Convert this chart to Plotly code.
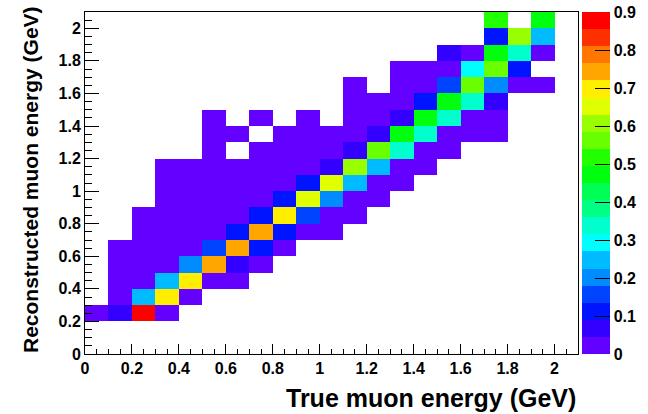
import plotly.graph_objects as go

# Bin centres (GeV) of the 2D histogram, 0.1 GeV bins from 0 to 2.1
true_energy = [0.05, 0.15, 0.25, 0.35, 0.45, 0.55, 0.65, 0.75, 0.85, 0.95, 1.05,
               1.15, 1.25, 1.35, 1.45, 1.55, 1.65, 1.75, 1.85, 1.95, 2.05]
reco_energy = [0.05, 0.15, 0.25, 0.35, 0.45, 0.55, 0.65, 0.75, 0.85, 0.95, 1.05,
               1.15, 1.25, 1.35, 1.45, 1.55, 1.65, 1.75, 1.85, 1.95, 2.05]

N = None
# One list per reconstructed-energy row (bottom to top), values per true-energy column
row_00 = [N, N, N, N, N, N, N, N, N, N, N, N, N, N, N, N, N, N, N, N, N]
row_01 = [N, N, N, N, N, N, N, N, N, N, N, N, N, N, N, N, N, N, N, N, N]
row_02 = [.02, .07, .88, .02, N, N, N, N, N, N, N, N, N, N, N, N, N, N, N, N, N]
row_03 = [N, .02, .25, .70, .02, N, N, N, N, N, N, N, N, N, N, N, N, N, N, N, N]
row_04 = [N, .02, .02, .25, .70, .02, .02, N, N, N, N, N, N, N, N, N, N, N, N, N, N]
row_05 = [N, .02, .02, .02, .20, .74, .07, .02, N, N, N, N, N, N, N, N, N, N, N, N, N]
row_06 = [N, .02, .02, .02, .02, .16, .74, .11, .02, N, N, N, N, N, N, N, N, N, N, N, N]
row_07 = [N, N, .02, .02, .02, .02, .11, .74, .11, .02, .02, N, N, N, N, N, N, N, N, N, N]
row_08 = [N, N, .02, .02, .02, .02, .02, .11, .70, .16, .02, .02, N, N, N, N, N, N, N, N, N]
row_09 = [N, N, N, .02, .02, .02, .02, .02, .11, .65, .20, .02, .02, N, N, N, N, N, N, N, N]
row_10 = [N, N, N, .02, .02, .02, .02, .02, .02, .11, .65, .25, .02, .02, N, N, N, N, N, N, N]
row_11 = [N, N, N, .02, .02, .02, .02, .02, .02, .02, .07, .61, .25, .02, .02, N, N, N, N, N, N]
row_12 = [N, N, N, N, N, .02, N, .02, .02, .02, .02, .07, .56, .34, .02, .02, N, N, N, N, N]
row_13 = [N, N, N, N, N, .02, .02, N, .02, .02, .02, .02, .07, .47, .34, .02, .02, .02, N, N, N]
row_14 = [N, N, N, N, N, .02, N, .02, N, .02, N, .02, .02, .07, .47, .34, .02, .02, N, N, N]
row_15 = [N, N, N, N, N, N, N, N, N, N, N, .02, .02, .02, .11, .47, .34, .07, N, N, N]
row_16 = [N, N, N, N, N, N, N, N, N, N, N, .02, N, .02, .02, .16, .56, .20, .02, .02, N]
row_17 = [N, N, N, N, N, N, N, N, N, N, N, N, N, .02, .02, .02, .29, .56, .11, N, N]
row_18 = [N, N, N, N, N, N, N, N, N, N, N, N, N, N, N, .07, .02, .47, .34, .02, N]
row_19 = [N, N, N, N, N, N, N, N, N, N, N, N, N, N, N, N, N, .11, .61, .25, N]
row_20 = [N, N, N, N, N, N, N, N, N, N, N, N, N, N, N, N, N, .52, N, .47, N]

z_rows = [row_00, row_01, row_02, row_03, row_04, row_05, row_06, row_07, row_08, row_09,
          row_10, row_11, row_12, row_13, row_14, row_15, row_16, row_17, row_18, row_19, row_20]

colorbar_ticks = [0, 0.1, 0.2, 0.3, 0.4, 0.5, 0.6, 0.7, 0.8, 0.9]
colorbar_labels = ["0", "0.1", "0.2", "0.3", "0.4", "0.5", "0.6", "0.7", "0.8", "0.9"]

# ROOT "pretty" palette, 20 contour levels
band_colors = [
    "rgb(99,0,255)", "rgb(51,0,255)", "rgb(0,20,255)", "rgb(0,68,255)", "rgb(0,139,255)",
    "rgb(0,187,255)", "rgb(0,255,252)", "rgb(0,255,204)", "rgb(0,255,133)", "rgb(0,255,85)",
    "rgb(0,255,14)", "rgb(34,255,0)", "rgb(105,255,0)", "rgb(153,255,0)", "rgb(224,255,0)",
    "rgb(255,238,0)", "rgb(255,167,0)", "rgb(255,119,0)", "rgb(255,48,0)", "rgb(255,0,0)",
]
nb = len(band_colors)
colorscale = []
for k, c in enumerate(band_colors):
    colorscale.append([k / nb, c])
    colorscale.append([(k + 1) / nb, c])

FONT = "Liberation Sans, Arial, Helvetica, sans-serif"

fig = go.Figure(go.Heatmap(
    x=true_energy, y=reco_energy, z=z_rows,
    zmin=0, zmax=0.9, colorscale=colorscale, hoverongaps=False,
    colorbar=dict(
        x=1.0075, xanchor="left", xpad=0, ypad=0, y=0.5, yanchor="middle",
        len=1, lenmode="fraction", thickness=28, thicknessmode="pixels",
        outlinewidth=0, tickmode="array", tickvals=colorbar_ticks, ticktext=colorbar_labels,
        ticks="inside", ticklen=15, tickcolor="black", tickwidth=1,
        tickfont=dict(family=FONT, size=16, color="black", weight="bold"),
    ),
))

axis_common = dict(
    showline=True, linecolor="black", linewidth=1, mirror=True,
    showgrid=False, zeroline=False, ticks="inside", tickcolor="black", tickwidth=1,
    tick0=0, dtick=0.2, tickfont=dict(family=FONT, size=16, color="black", weight="bold"),
)
fig.update_xaxes(range=[0, 2.1], ticklen=10,
                 minor=dict(ticks="inside", ticklen=5, dtick=0.05, tick0=0, tickcolor="black"),
                 **axis_common)
fig.update_yaxes(range=[0, 2.1], ticklen=14,
                 minor=dict(ticks="inside", ticklen=7, dtick=0.05, tick0=0, tickcolor="black"),
                 **axis_common)

fig.add_annotation(text="True muon energy (GeV)", xref="paper", yref="paper",
                   x=1.0, y=-0.1287, xanchor="right", yanchor="middle", showarrow=False,
                   font=dict(family=FONT, size=25, color="black", weight="bold"))
fig.add_annotation(text="Reconstructed muon energy (GeV)", xref="paper", yref="paper",
                   x=-0.1095, y=0.5088, xanchor="center", yanchor="middle", showarrow=False,
                   textangle=-90, font=dict(family=FONT, size=21, color="black", weight="bold"))

fig.update_layout(
    width=648, height=414, margin=dict(l=85, r=70, t=12, b=60, autoexpand=False),
    paper_bgcolor="white", plot_bgcolor="white", showlegend=False,
)

fig.write_html("out.html")
